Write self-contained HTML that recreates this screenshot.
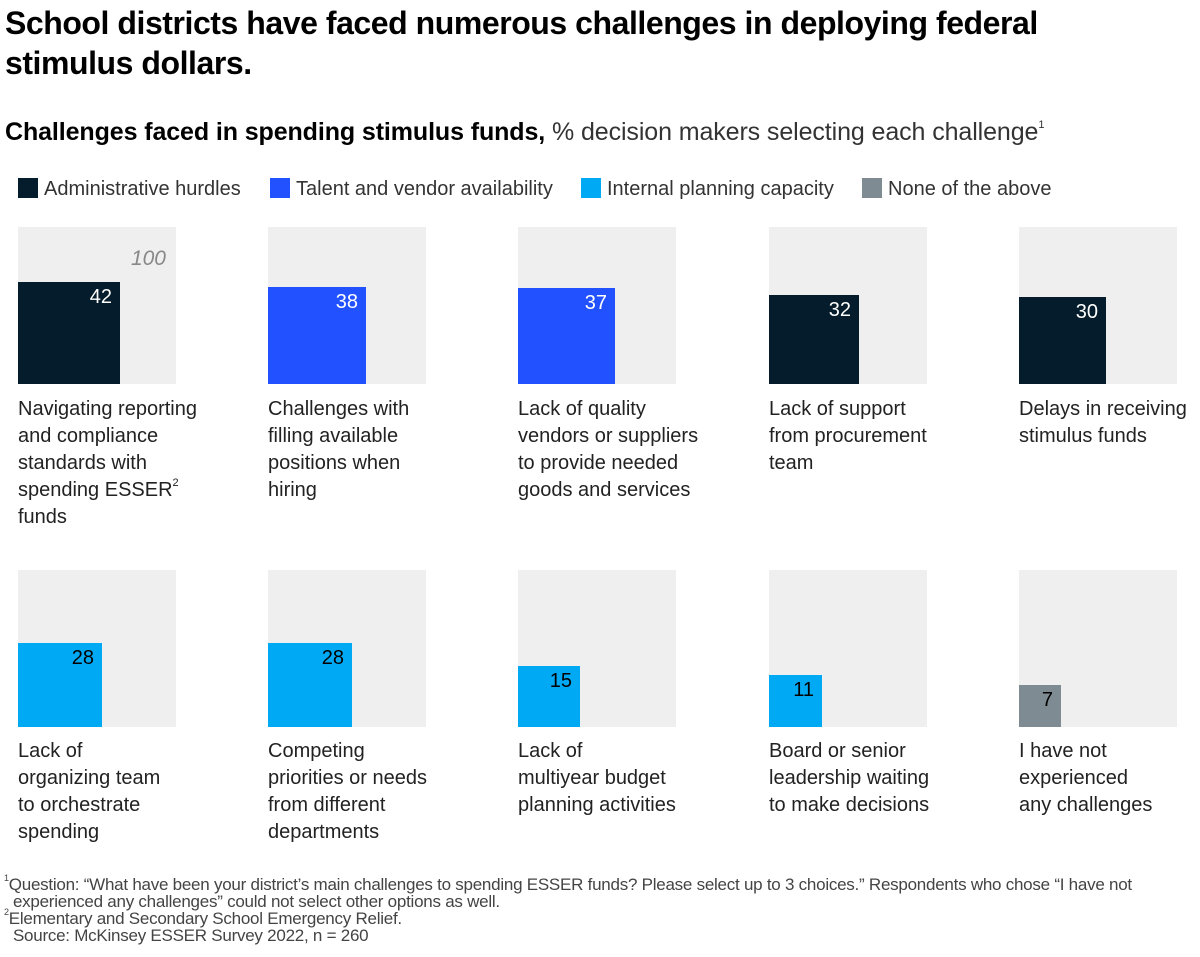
<!DOCTYPE html><html><head><style>
body{margin:0;width:1200px;height:957px;background:#fff;font-family:"Liberation Sans",sans-serif;color:#000;position:relative;overflow:hidden}
.a{position:absolute}
.t{left:5px;top:3px;font-size:32px;font-weight:bold;line-height:40px;letter-spacing:-0.45px}
.s{left:5px;top:118px;font-size:25px;white-space:nowrap;letter-spacing:-0.1px}
.lg{top:178px;font-size:20px;color:#333;white-space:nowrap}
.sq{display:inline-block;width:20px;height:20px;vertical-align:-3px;margin-right:6px}
.p{width:158px;height:157px;background:#efefef}
.b{position:absolute;left:0;bottom:0}
.v{position:absolute;right:8px;top:4px;font-size:20px}
.c{font-size:20px;line-height:27px;color:#222;white-space:nowrap}
.f{left:4px;font-size:17px;color:#444;line-height:17px;white-space:nowrap;letter-spacing:-0.25px}
sup{line-height:0;position:relative;top:-2px}
</style></head><body>
<div class="a t">School districts have faced numerous challenges in deploying federal<br>stimulus dollars.</div>
<div class="a s"><b>Challenges faced in spending stimulus funds,</b> <span style="color:#333">% decision makers selecting each challenge<sup style="font-size:11px;top:-3px">1</sup></span></div>
<div class="a lg" style="left:18px"><span class="sq" style="background:#051c2c"></span>Administrative hurdles</div>
<div class="a lg" style="left:270px"><span class="sq" style="background:#2251ff"></span>Talent and vendor availability</div>
<div class="a lg" style="left:581px"><span class="sq" style="background:#00a9f4"></span>Internal planning capacity</div>
<div class="a lg" style="left:862px"><span class="sq" style="background:#7f8b93"></span>None of the above</div>

<div class="a p" style="left:18px;top:227px"><div style="position:absolute;right:10px;top:20px;font-style:italic;color:#888;font-size:21px">100</div><div class="b" style="width:102px;height:102px;background:#051c2c"><span class="v" style="color:#fff">42</span></div></div>
<div class="a p" style="left:268px;top:227px"><div class="b" style="width:98px;height:97px;background:#2251ff"><span class="v" style="color:#fff">38</span></div></div>
<div class="a p" style="left:518px;top:227px"><div class="b" style="width:97px;height:96px;background:#2251ff"><span class="v" style="color:#fff">37</span></div></div>
<div class="a p" style="left:769px;top:227px"><div class="b" style="width:90px;height:89px;background:#051c2c"><span class="v" style="color:#fff">32</span></div></div>
<div class="a p" style="left:1019px;top:227px"><div class="b" style="width:87px;height:87px;background:#051c2c"><span class="v" style="color:#fff">30</span></div></div>

<div class="a c" style="left:18px;top:396px">Navigating reporting<br>and compliance<br>standards with<br>spending ESSER<sup style="font-size:11px">2</sup><br>funds</div>
<div class="a c" style="left:268px;top:396px">Challenges with<br>filling available<br>positions when<br>hiring</div>
<div class="a c" style="left:518px;top:396px">Lack of quality<br>vendors or suppliers<br>to provide needed<br>goods and services</div>
<div class="a c" style="left:769px;top:396px">Lack of support<br>from procurement<br>team</div>
<div class="a c" style="left:1019px;top:396px">Delays in receiving<br>stimulus funds</div>

<div class="a p" style="left:18px;top:570px"><div class="b" style="width:84px;height:84px;background:#00a9f4"><span class="v">28</span></div></div>
<div class="a p" style="left:268px;top:570px"><div class="b" style="width:84px;height:84px;background:#00a9f4"><span class="v">28</span></div></div>
<div class="a p" style="left:518px;top:570px"><div class="b" style="width:62px;height:61px;background:#00a9f4"><span class="v">15</span></div></div>
<div class="a p" style="left:769px;top:570px"><div class="b" style="width:53px;height:52px;background:#00a9f4"><span class="v">11</span></div></div>
<div class="a p" style="left:1019px;top:570px"><div class="b" style="width:42px;height:42px;background:#7f8b93"><span class="v">7</span></div></div>

<div class="a c" style="left:18px;top:738px">Lack of<br>organizing team<br>to orchestrate<br>spending</div>
<div class="a c" style="left:268px;top:738px">Competing<br>priorities or needs<br>from different<br>departments</div>
<div class="a c" style="left:518px;top:738px">Lack of<br>multiyear budget<br>planning activities</div>
<div class="a c" style="left:769px;top:738px">Board or senior<br>leadership waiting<br>to make decisions</div>
<div class="a c" style="left:1019px;top:738px">I have not<br>experienced<br>any challenges</div>

<div class="a f" style="top:876px"><sup style="font-size:9px">1</sup>Question: “What have been your district’s main challenges to spending ESSER funds? Please select up to 3 choices.” Respondents who chose “I have not<br>&nbsp;&nbsp;experienced any challenges” could not select other options as well.<br><sup style="font-size:9px">2</sup>Elementary and Secondary School Emergency Relief.<br>&nbsp;&nbsp;Source: McKinsey ESSER Survey 2022, n = 260</div>
</body></html>
